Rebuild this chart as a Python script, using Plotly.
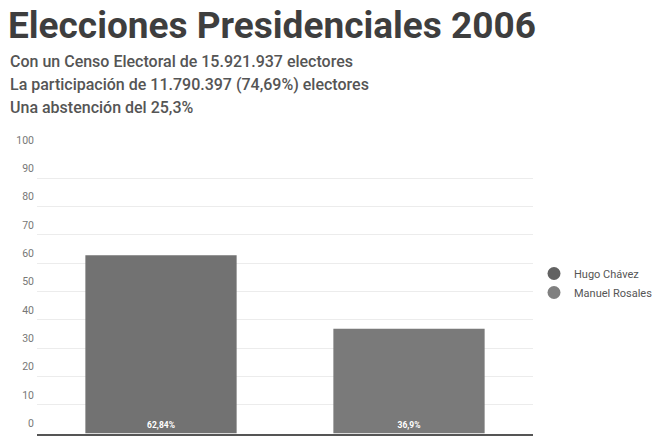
import plotly.graph_objects as go

# Resultados de las elecciones presidenciales de Venezuela, 2006
candidatos = ["Hugo Chávez", "Manuel Rosales"]
porcentajes = [62.84, 36.9]
etiquetas = ["62,84%", "36,9%"]
colores_barras = ["#727272", "#7a7a7a"]
colores_leyenda = ["#626262", "#808080"]

titulo = "Elecciones Presidenciales 2006"
subtitulos = [
    "Con un Censo Electoral de 15.921.937 electores",
    "La participación de 11.790.397 (74,69%) electores",
    "Una abstención del 25,3%",
]
ticks_y = [0, 10, 20, 30, 40, 50, 60, 70, 80, 90, 100]

fig = go.Figure()

for nombre, valor, texto, color in zip(candidatos, porcentajes, etiquetas, colores_barras):
    fig.add_trace(go.Bar(
        x=[nombre], y=[valor], text=[texto],
        marker=dict(color=color, line=dict(width=0)),
        width=0.61,
        textposition="inside", insidetextanchor="start",
        textfont=dict(family="Roboto", size=8.5, color="white", weight="bold"),
        textangle=0,
        showlegend=False, hoverinfo="skip",
    ))

# Entradas de leyenda con marcador circular
for nombre, color in zip(candidatos, colores_leyenda):
    fig.add_trace(go.Scatter(
        x=[None], y=[None], mode="markers", name=nombre,
        marker=dict(symbol="circle", size=13, color=color),
    ))

PLOT_TOP, PLOT_BOTTOM = 150, 434
PLOT_LEFT, PLOT_RIGHT = 37, 533
alto = PLOT_BOTTOM - PLOT_TOP
ancho = PLOT_RIGHT - PLOT_LEFT

def y_papel(py):
    return (PLOT_BOTTOM - py) / alto

def x_papel(px):
    return (px - PLOT_LEFT) / ancho

anotaciones = [dict(
    text="<b>" + titulo + "</b>", x=x_papel(6), y=y_papel(25), xref="paper", yref="paper",
    xanchor="left", yanchor="middle", showarrow=False,
    font=dict(family="Roboto", size=37, color="#3e3e3e"),
)]
for texto, py in zip(subtitulos, [61, 85, 107]):
    anotaciones.append(dict(
        text=texto, x=x_papel(8), y=y_papel(py), xref="paper", yref="paper",
        xanchor="left", yanchor="middle", showarrow=False,
        font=dict(family="Roboto", size=16, color="#555555", weight=500),
    ))

fig.update_layout(
    width=661, height=442,
    margin=dict(l=PLOT_LEFT, r=661 - PLOT_RIGHT, t=PLOT_TOP, b=442 - PLOT_BOTTOM,
                pad=0, autoexpand=False),
    paper_bgcolor="white", plot_bgcolor="white",
    barmode="overlay",
    annotations=anotaciones,
    showlegend=True,
    legend=dict(
        x=x_papel(534), y=y_papel(283), xanchor="left", yanchor="middle",
        font=dict(family="Roboto", size=11, color="#555555"),
        itemwidth=30, tracegroupgap=4,
    ),
    xaxis=dict(
        showticklabels=False, showgrid=False, zeroline=False,
        showline=True, linecolor="#555555", linewidth=2,
        range=[-0.5, 1.5],
    ),
    yaxis=dict(
        range=[-0.3, 100], tickvals=ticks_y, showgrid=True,
        gridcolor="#ececec", gridwidth=1, zeroline=False, showline=False,
        tickfont=dict(family="Roboto", size=10.5, color="#777777"),
        ticklabelshift=-10, ticklabelstandoff=2,
    ),
)

fig.write_html("out.html")
